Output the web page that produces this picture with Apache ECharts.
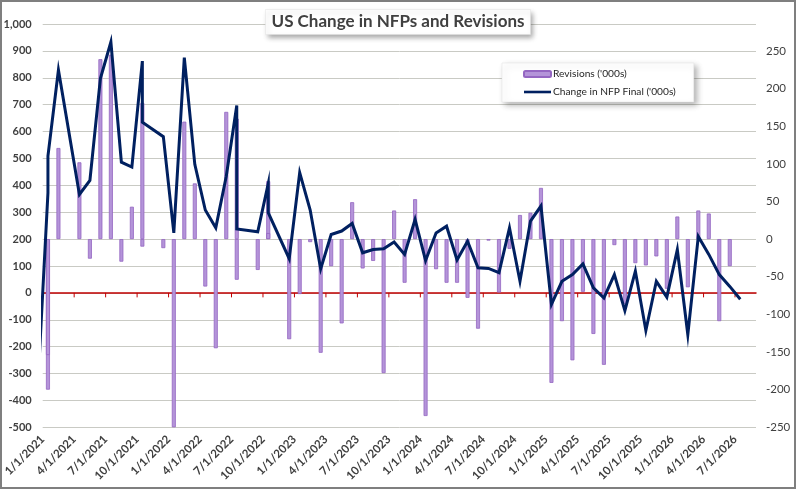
<!DOCTYPE html>
<html>
<head>
    <meta charset="utf-8">
    <title>US Change in NFPs and Revisions</title>
    <script type="text/javascript" src="https://cdn.jsdelivr.net/npm/echarts@6/dist/echarts.min.js"></script>
    <style>
        html, body { margin: 0; padding: 0; background: #fff; }
    </style>
</head>
<body>
    <div id="main" style="width: 796px;height:489px;"></div>
    <script type="text/javascript">
    // line: Change in NFP Final ('000s), left axis
    // (some months carry two prints, some none, as in the source sheet)
    var nfpDates = [
        '2020-12', '2021-01', '2021-01', '2021-02', '2021-04', '2021-05', '2021-06', '2021-07',
        '2021-08', '2021-09', '2021-10', '2021-10', '2021-12', '2022-01', '2022-02', '2022-03',
        '2022-04', '2022-05', '2022-06', '2022-07', '2022-07', '2022-09', '2022-10', '2022-10',
        '2022-12', '2023-01', '2023-02', '2023-03', '2023-04', '2023-05', '2023-06', '2023-07',
        '2023-08', '2023-09', '2023-10', '2023-11', '2023-12', '2024-01', '2024-02', '2024-03',
        '2024-04', '2024-05', '2024-06', '2024-07', '2024-08', '2024-09', '2024-10', '2024-11',
        '2024-12', '2025-01', '2025-02', '2025-03', '2025-04', '2025-05', '2025-06', '2025-07',
        '2025-08', '2025-09', '2025-10', '2025-11', '2025-12', '2026-01', '2026-02', '2026-03',
        '2026-04', '2026-05', '2026-06', '2026-07'
    ];
    var nfpValues = [
        -372, 372, 509, 829, 366, 418, 797, 933,
        486, 468, 862, 635, 581, 223, 875, 478,
        308, 242, 434, 697, 238, 227, 406, 298,
        127, 447, 308, 89, 217, 230, 258, 149,
        161, 164, 189, 143, 273, 120, 223, 248,
        122, 192, 93, 91, 75, 242, 43, 267,
        323, -43, 43, 68, 108, 19, -19, 68,
        -66, 81, -140, 43, -16, 161, -155, 210,
        143, 68, 24, -24
    ];

    // bars: Revisions ('000s), right axis
    var revDates = [
        '2021-01', '2021-01', '2021-02', '2021-04', '2021-05', '2021-06', '2021-07', '2021-08',
        '2021-09', '2021-10', '2021-10', '2021-12', '2022-01', '2022-02', '2022-03', '2022-04',
        '2022-05', '2022-06', '2022-07', '2022-07', '2022-09', '2022-10', '2022-10', '2022-12',
        '2023-01', '2023-02', '2023-03', '2023-04', '2023-05', '2023-06', '2023-07', '2023-08',
        '2023-09', '2023-10', '2023-11', '2023-12', '2024-01', '2024-02', '2024-03', '2024-04',
        '2024-05', '2024-06', '2024-07', '2024-08', '2024-09', '2024-10', '2024-11', '2024-12',
        '2025-01', '2025-02', '2025-03', '2025-04', '2025-05', '2025-06', '2025-07', '2025-08',
        '2025-09', '2025-10', '2025-11', '2025-12', '2026-01', '2026-02', '2026-03', '2026-04',
        '2026-05', '2026-06'
    ];
    var revValues = [
        -200, -154, 121, 102, -26, 239, 245, -30,
        43, 181, -10, -12, -250, 156, 74, -63,
        -145, 169, 160, -54, -41, 77, 8, -133,
        -73, -4, -151, -36, -112, 49, -39, -29,
        -178, 38, -58, 53, -235, -40, -58, -58,
        -78, -119, -2, -71, -13, 32, 35, 68,
        -191, -109, -161, -70, -126, -167, -8, -86,
        -32, -35, -23, -66, 30, -64, 38, 34,
        -109, -36
    ];

    var xTickLabels = [
        '1/1/2021', '4/1/2021', '7/1/2021', '10/1/2021',
        '1/1/2022', '4/1/2022', '7/1/2022', '10/1/2022',
        '1/1/2023', '4/1/2023', '7/1/2023', '10/1/2023',
        '1/1/2024', '4/1/2024', '7/1/2024', '10/1/2024',
        '1/1/2025', '4/1/2025', '7/1/2025', '10/1/2025',
        '1/1/2026', '4/1/2026', '7/1/2026'
    ];

    // month string -> position on the x axis (middle of the month band)
    function monthPos(s) {
        var p = s.split('-');
        return (Number(p[0]) - 2021) * 12 + (Number(p[1]) - 1) + 0.5;
    }
    var tickPos = xTickLabels.map(function (t, i) { return i * 3; });

    var nfpData = nfpDates.map(function (d, i) { return [monthPos(d), nfpValues[i]]; });
    var revData = revDates.map(function (d, i) { return [monthPos(d), revValues[i]]; });

    var txt = '#404040';
    var font = 'Lato';
    var axisRed = '#c00000';

    var myChart = echarts.init(document.getElementById('main'));

    var option = {
        backgroundColor: '#fff',
        animation: false,
        textStyle: { fontFamily: font },
        title: {
            text: 'US Change in NFPs and Revisions',
            left: 'center',
            top: 9,
            padding: [3, 6, 3, 6],
            backgroundColor: '#fff',
            borderColor: '#e2e2e2',
            borderWidth: 0.5,
            shadowBlur: 5,
            shadowColor: 'rgba(0,0,0,0.35)',
            shadowOffsetX: 2,
            shadowOffsetY: 3,
            textStyle: {
                fontFamily: font,
                fontSize: 17,
                fontWeight: 'bold',
                color: txt,
                lineHeight: 20
            }
        },
        legend: {
            orient: 'vertical',
            left: 502,
            top: 63,
            padding: [6, 18, 5, 21],
            itemWidth: 27,
            itemHeight: 6,
            itemGap: 8,
            backgroundColor: '#fff',
            borderColor: '#e2e2e2',
            borderWidth: 0.5,
            shadowBlur: 6,
            shadowColor: 'rgba(0,0,0,0.3)',
            shadowOffsetX: 3,
            shadowOffsetY: 3,
            textStyle: { fontFamily: font, fontSize: 10.2, color: '#262626', padding: [0, 0, 0, -3] },
            data: [
                { name: "Revisions ('000s)" },
                {
                    name: "Change in NFP Final ('000s)",
                    icon: 'path://M0,0L27,0L27,2.6L0,2.6Z',
                    itemStyle: { color: '#002060', borderWidth: 0 }
                }
            ]
        },
        graphic: [{
            type: 'rect',
            silent: true,
            z: 100,
            shape: { x: 1, y: 1, width: 794, height: 487 },
            style: { fill: 'none', stroke: '#7f7f7f', lineWidth: 2 }
        }],
        grid: {
            left: 42.7,
            right: 40,
            top: 24,
            bottom: 61.7
        },
        xAxis: [
            {
                // labels at the bottom
                type: 'value',
                position: 'bottom',
                min: 0,
                max: 68,
                interval: 3,
                axisLine: { show: false, onZero: false },
                axisTick: { show: false },
                splitLine: { show: false },
                axisLabel: {
                    customValues: tickPos,
                    rotate: 45,
                    margin: 10,
                    fontFamily: font,
                    fontSize: 11.5,
                    fontWeight: 'bold',
                    color: txt,
                    formatter: function (v) {
                        return v % 3 === 0 ? (xTickLabels[v / 3] || '') : '';
                    }
                }
            },
            {
                // red zero line, same scale as the first one
                type: 'value',
                position: 'bottom',
                min: 0,
                max: 68,
                interval: 3,
                axisLine: {
                    show: true,
                    onZero: true,
                    onZeroAxisIndex: 0,
                    lineStyle: { color: axisRed, width: 1.5 }
                },
                axisTick: { show: false },
                axisLabel: { show: false },
                splitLine: { show: false }
            }
        ],
        yAxis: [
            {
                type: 'value',
                min: -500,
                max: 1000,
                interval: 100,
                axisLine: { show: false },
                axisTick: { show: false },
                splitLine: { lineStyle: { color: '#c9cac4', width: 1 } },
                axisLabel: {
                    margin: 11,
                    fontFamily: font,
                    fontSize: 11,
                    fontWeight: 'bold',
                    color: txt,
                    formatter: function (v) { return v.toLocaleString('en-US'); }
                }
            },
            {
                type: 'value',
                min: -250,
                max: 2000 / 7,
                interval: 50,
                axisLine: { show: false },
                axisTick: { show: false },
                splitLine: { show: false },
                axisLabel: {
                    margin: 10,
                    fontFamily: font,
                    fontSize: 11.5,
                    color: txt,
                    showMaxLabel: false,
                    formatter: function (v) { return v > 250 ? '' : String(v); }
                }
            }
        ],
        series: [
            {
                // small red tick marks hanging under the zero line
                name: 'ticks',
                type: 'custom',
                xAxisIndex: 0,
                yAxisIndex: 0,
                silent: true,
                z: 1,
                data: tickPos.map(function (v) { return [v, 0]; }),
                renderItem: function (params, api) {
                    var p = api.coord([api.value(0), api.value(1)]);
                    return {
                        type: 'line',
                        shape: { x1: p[0], y1: p[1], x2: p[0], y2: p[1] + 4.5 },
                        style: { stroke: axisRed, lineWidth: 1 }
                    };
                }
            },
            {
                name: "Revisions ('000s)",
                type: 'bar',
                xAxisIndex: 0,
                yAxisIndex: 1,
                barWidth: 4,
                itemStyle: {
                    color: '#b494d9',
                    borderColor: '#9466c2',
                    borderWidth: 0.8
                },
                data: revData
            },
            {
                name: "Change in NFP Final ('000s)",
                type: 'line',
                xAxisIndex: 0,
                yAxisIndex: 0,
                symbol: 'none',
                clip: true,
                lineStyle: { color: '#002060', width: 3, join: 'miter' },
                itemStyle: { color: '#002060' },
                data: nfpData
            }
        ]
    };

    myChart.setOption(option);
    </script>
</body>
</html>
